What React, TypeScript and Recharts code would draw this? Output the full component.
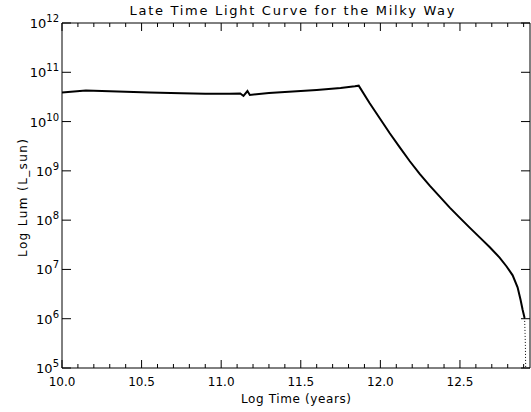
import React from 'react';
import { LineChart, Line, XAxis, YAxis, Label } from 'recharts';

// log10 time (years) vs log10 luminosity (L_sun)
const logTime = [
  10.0, 10.15, 10.35, 10.55, 10.75, 10.9, 11.05, 11.12, 11.14, 11.165, 11.18,
  11.3, 11.45, 11.6, 11.75, 11.84, 11.864, 11.933, 11.996, 12.059, 12.122,
  12.185, 12.247, 12.31, 12.373, 12.436, 12.498, 12.561, 12.624, 12.686,
  12.749, 12.793, 12.831, 12.862, 12.881, 12.894, 12.906,
];
const logLum = [
  10.59, 10.63, 10.61, 10.59, 10.575, 10.565, 10.565, 10.57, 10.52, 10.62, 10.54,
  10.58, 10.61, 10.64, 10.68, 10.715, 10.728, 10.371, 10.067, 9.763, 9.475,
  9.195, 8.937, 8.7, 8.477, 8.254, 8.051, 7.848, 7.651, 7.454,
  7.241, 7.06, 6.88, 6.637, 6.381, 6.178, 6.016,
];
// sparse sampled tail that drops off the bottom
const tailTime = [12.906, 12.909, 12.911, 12.912, 12.913];
const tailLum = [6.016, 5.7, 5.45, 5.2, 5.0];

const xMajorTicks = [10.0, 10.5, 11.0, 11.5, 12.0, 12.5];
const xAllTicks = [
  10.0, 10.1, 10.2, 10.3, 10.4, 10.5, 10.6, 10.7, 10.8, 10.9,
  11.0, 11.1, 11.2, 11.3, 11.4, 11.5, 11.6, 11.7, 11.8, 11.9,
  12.0, 12.1, 12.2, 12.3, 12.4, 12.5, 12.6, 12.7, 12.8, 12.9,
];
const yTicks = [5, 6, 7, 8, 9, 10, 11, 12];

const FONT = '"DejaVu Sans", sans-serif';

const chartData = [
  ...logTime.map((t, i) => ({ t, lum: logLum[i], tail: null as number | null })),
  ...tailTime.map((t, i) => ({ t, lum: null as number | null, tail: tailLum[i] })),
];

const isMajor = (v: number) => xMajorTicks.some((m) => Math.abs(m - v) < 1e-6);

const BottomTick = (props: any) => {
  const { x, y, payload } = props;
  const major = isMajor(payload.value);
  return (
    <g>
      <line x1={x} x2={x} y1={y} y2={y - (major ? 8 : 4)} stroke="#000" />
      {major && (
        <text x={x} y={y + 18} textAnchor="middle" fontSize={12} fontFamily={FONT} fill="#000">
          {payload.value.toFixed(1)}
        </text>
      )}
    </g>
  );
};

const TopTick = (props: any) => {
  const { x, y, payload } = props;
  const major = isMajor(payload.value);
  return <line x1={x} x2={x} y1={y} y2={y + (major ? 8 : 4)} stroke="#000" />;
};

const LeftTick = (props: any) => {
  const { x, y, payload } = props;
  return (
    <g>
      <line x1={x} x2={x + 9} y1={y} y2={y} stroke="#000" />
      <text x={x - 3} y={y + 5} textAnchor="end" fontFamily={FONT} fill="#000">
        <tspan fontSize={13}>10</tspan>
        <tspan fontSize={10} dy={-6}>{payload.value}</tspan>
      </text>
    </g>
  );
};

const RightTick = (props: any) => {
  const { x, y } = props;
  return <line x1={x} x2={x - 9} y1={y} y2={y} stroke="#000" />;
};

export default function App() {
  return (
    <div>
      <style>{`body{margin:0}`}</style>
      <LineChart width={531} height={412} data={chartData} margin={{ top: 22, right: 0, bottom: 0, left: 0 }}>
        <XAxis
          xAxisId="b"
          dataKey="t"
          type="number"
          domain={[10, 12.94]}
          allowDataOverflow
          ticks={xAllTicks}
          interval={0}
          tickSize={0}
          tickMargin={0}
          tickLine={false}
          axisLine={{ stroke: '#000' }}
          height={44}
          tick={(p: any) => <BottomTick {...p} />}
        >
          <Label
            content={() => (
              <text x={296} y={403} textAnchor="middle" fontSize={12} fontFamily={FONT} fill="#000" textLength={110} lengthAdjust="spacing">
                Log Time (years)
              </text>
            )}
          />
        </XAxis>
        <XAxis
          xAxisId="t"
          orientation="top"
          dataKey="t"
          type="number"
          domain={[10, 12.94]}
          allowDataOverflow
          ticks={xAllTicks}
          interval={0}
          tickSize={0}
          tickMargin={0}
          tickLine={false}
          axisLine={{ stroke: '#000' }}
          height={1}
          tick={(p: any) => <TopTick {...p} />}
        >
          <Label
            content={() => (
              <text x={292} y={15} textAnchor="middle" fontSize={13} fontFamily={FONT} fill="#000" textLength={325} lengthAdjust="spacing">
                Late Time Light Curve for the Milky Way
              </text>
            )}
          />
        </XAxis>
        <YAxis
          yAxisId="l"
          type="number"
          domain={[5, 12]}
          allowDataOverflow
          ticks={yTicks}
          interval={0}
          tickSize={0}
          tickMargin={0}
          tickLine={false}
          axisLine={{ stroke: '#000' }}
          width={62}
          tick={(p: any) => <LeftTick {...p} />}
        >
          <Label
            content={() => (
              <text
                x={0}
                y={0}
                transform="translate(27 198) rotate(-90)"
                textAnchor="middle"
                fontSize={12}
                fontFamily={FONT}
                fill="#000"
                textLength={118}
                lengthAdjust="spacing"
              >
                Log Lum (L_sun)
              </text>
            )}
          />
        </YAxis>
        <YAxis
          yAxisId="r"
          orientation="right"
          type="number"
          domain={[5, 12]}
          allowDataOverflow
          ticks={yTicks}
          interval={0}
          tickSize={0}
          tickMargin={0}
          tickLine={false}
          axisLine={{ stroke: '#000' }}
          width={1}
          tick={(p: any) => <RightTick {...p} />}
        />
        <Line
          xAxisId="b"
          yAxisId="l"
          type="linear"
          dataKey="lum"
          stroke="#000"
          strokeWidth={2}
          dot={false}
          isAnimationActive={false}
        />
        <Line
          xAxisId="b"
          yAxisId="l"
          type="linear"
          dataKey="tail"
          stroke="#000"
          strokeWidth={1}
          strokeDasharray="1 2"
          dot={false}
          isAnimationActive={false}
        />
      </LineChart>
    </div>
  );
}
